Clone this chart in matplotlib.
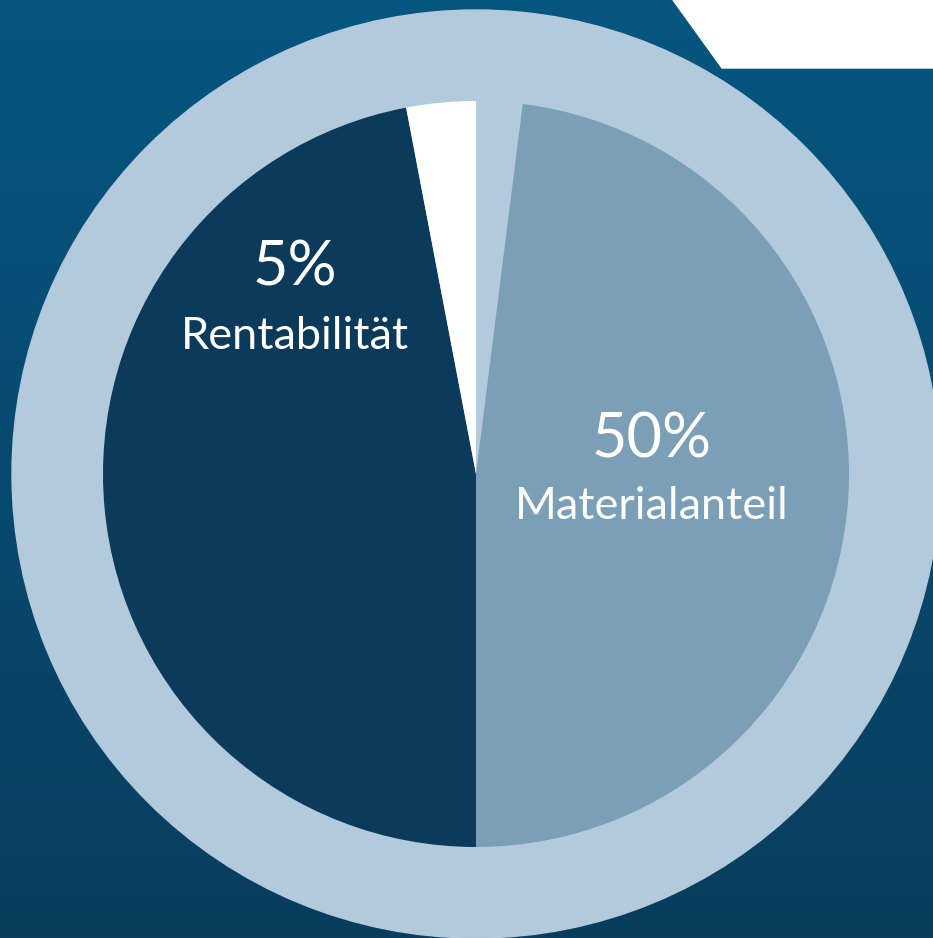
import numpy as np
import matplotlib.pyplot as plt
from matplotlib.patches import Circle, Polygon

# slices clockwise from 12 o'clock
shares = [2, 48, 47, 3]
colors = ["#b2cadc", "#7b9fb6", "#0b3a5a", "#ffffff"]
percent_labels = ["50%", "5%"]
name_labels = ["Materialanteil", "Rentabilität"]

W, H = 933, 938
fig = plt.figure(figsize=(W / 100, H / 100), dpi=100)
ax = fig.add_axes([0, 0, 1, 1])

# background gradient
top = np.array([5, 86, 128]) / 255
bottom = np.array([10, 61, 94]) / 255
t = np.linspace(0, 1, 256)[:, None]
grad = (top * (1 - t) + bottom * t)[:, None, :]
ax.imshow(grad, extent=[0, W, 0, H], aspect="auto", zorder=0)

cx, cy = 476, H - 474
ax.add_patch(Circle((cx, cy), 464, color="#b2cadc", zorder=1))

wedges, _ = ax.pie(shares, colors=colors, startangle=90, counterclock=False,
                   radius=373, center=(cx, cy),
                   wedgeprops=dict(linewidth=0))
for w in wedges:
    w.set_zorder(2)

# white corner shape
ax.add_patch(Polygon([(673, H), (722, H - 68), (W, H - 68), (W, H)],
                     closed=True, color="white", zorder=3))

font = "Lato"
ax.text(652, H - 440, percent_labels[0], color="white", fontsize=44,
        family=font, ha="center", va="center", zorder=4)
ax.text(652, H - 506, name_labels[0], color="white", fontsize=32.5,
        family=font, ha="center", va="center", zorder=4)
ax.text(295, H - 268, percent_labels[1], color="white", fontsize=44,
        family=font, ha="center", va="center", zorder=4)
ax.text(295, H - 336, name_labels[1], color="white", fontsize=32.5,
        family=font, ha="center", va="center", zorder=4)

ax.set_xlim(0, W)
ax.set_ylim(0, H)
ax.set_aspect("auto")
ax.axis("off")

fig.savefig("out.png", dpi=100)
